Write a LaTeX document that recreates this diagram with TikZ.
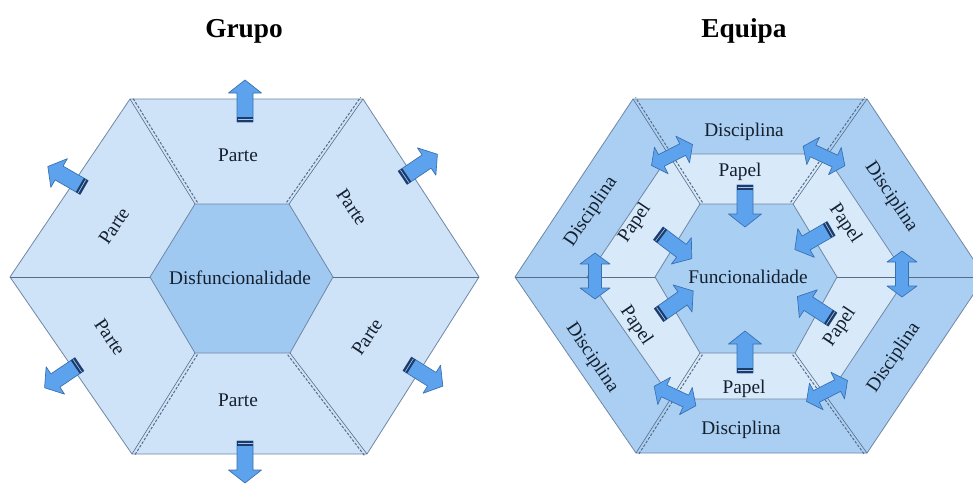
\documentclass[tikz,border=0pt]{standalone}
\usepackage{fontspec}
\setmainfont{Liberation Serif}
\usetikzlibrary{calc}

\definecolor{partfill}{HTML}{CFE3F8}
\definecolor{corefill}{HTML}{A0C9F1}
\definecolor{discfill}{HTML}{ABCFF2}
\definecolor{rolefill}{HTML}{D8EAFA}
\definecolor{funcfill}{HTML}{A9CFF3}
\definecolor{edgecol}{HTML}{6F87A6}
\definecolor{seamcol}{HTML}{566C88}
\definecolor{labelcol}{HTML}{15202F}
\definecolor{arrowcol}{HTML}{5CA2EC}
\definecolor{arrowedge}{HTML}{3A6FB0}
\definecolor{arrowdark}{HTML}{1E3A66}

% double seam: a solid rule plus a dashed rule running beside it
\newcommand\hexseam[3]{%
  \draw[seamline] (#1) -- (#2);
  \coordinate (seamstart) at ($(#1)!2.2pt!#3:(#2)$);
  \draw[seamdash] (seamstart) -- ($(seamstart)+(#2)-(#1)$);
}

\begin{document}
\begin{tikzpicture}[x=0.75pt,y=-0.75pt,
  edge/.style={draw=edgecol, line width=0.6pt, line join=round},
  seamline/.style={draw=seamcol, line width=0.45pt},
  seamdash/.style={draw=seamcol, line width=0.75pt, dash pattern=on 2pt off 1.2pt},
  lbl/.style={font=\fontsize{14.5}{16}\selectfont, text=labelcol, inner sep=0pt},
  title/.style={font=\fontsize{20.5}{24}\selectfont\bfseries, text=black, inner sep=0pt, anchor=base},
  arrowbody/.style={fill=arrowcol, draw=arrowedge, line width=0.5pt, line join=round},
  pics/blockarrow/.style={code={
    \path[arrowbody] (-21,-8) -- (8,-8) -- (8,-16.5) -- (21,0) -- (8,16.5) -- (8,8) -- (-21,8) -- cycle;
    \fill[arrowdark] (-21,-8) rectangle (-16,8);
    \draw[arrowcol!60!white, line width=0.5pt] (-18.5,-7.5) -- (-18.5,7.5);
  }},
  pics/twinarrow/.style={code={
    \path[arrowbody] (-23,0) -- (-12,-15) -- (-12,-6.5) -- (12,-6.5) -- (12,-15) -- (23,0)
      -- (12,15) -- (12,6.5) -- (-12,6.5) -- (-12,15) -- cycle;
  }}
]
\clip (0,0) rectangle (973,485);
\fill[white] (0,0) rectangle (973,485);

% ---------- titles ----------
\node[title] (tGrupo) at (244,38) {Grupo};
\node[title] (tEquipa) at (744,38) {Equipa};

% ---------- Grupo hexagon ----------
\coordinate (gL)  at (10,277);
\coordinate (gTL) at (130,99);
\coordinate (gTR) at (363,99);
\coordinate (gR)  at (479,277);
\coordinate (gBR) at (367,454);
\coordinate (gBL) at (132,454);
\coordinate (gcL)  at (150,277);
\coordinate (gcTL) at (195,204);
\coordinate (gcTR) at (289,204);
\coordinate (gcR)  at (333,277);
\coordinate (gcBR) at (290,353);
\coordinate (gcBL) at (195,353);

\path[edge, fill=partfill] (gL)--(gTL)--(gTR)--(gR)--(gBR)--(gBL)--cycle;
\path[edge, fill=corefill] (gcL)--(gcTL)--(gcTR)--(gcR)--(gcBR)--(gcBL)--cycle;

\hexseam{gcTL}{gTL}{-90}
\hexseam{gcTR}{gTR}{90}
\hexseam{gcBL}{gBL}{90}
\hexseam{gcBR}{gBR}{-90}
\draw[seamline] (gL) -- (gcL);
\draw[seamdash] (gL) -- (gcL);
\draw[seamline] (gcR) -- (gR);
\draw[seamdash] (gcR) -- (gR);

\node[lbl] (pTop) at (238,155) {Parte};
\node[lbl, rotate=56] (pTL) at (114,226) {Parte};
\node[lbl, rotate=-56] (pTR) at (352,207) {Parte};
\node[lbl, rotate=-56] (pBL) at (110,337) {Parte};
\node[lbl, rotate=56] (pBR) at (367,337) {Parte};
\node[lbl] (pBot) at (238,400) {Parte};
\node[lbl] (gCore) at (240,278) {Disfuncionalidade};

\pic[rotate=90] at (245,101) {blockarrow};
\pic[rotate=34] at (420,166) {blockarrow};
\pic[rotate=-32] at (425,375) {blockarrow};
\pic[rotate=-90] at (245,462) {blockarrow};
\pic[rotate=-146] at (62,376) {blockarrow};
\pic[rotate=150] at (66,177) {blockarrow};

% ---------- Equipa hexagon ----------
\coordinate (eL)  at (515,277);
\coordinate (eTL) at (633,99);
\coordinate (eTR) at (867,99);
\coordinate (eR)  at (985,277);
\coordinate (eBR) at (867,453);
\coordinate (eBL) at (636,453);
\coordinate (emL)  at (587,277);
\coordinate (emTL) at (670,154);
\coordinate (emTR) at (825,154);
\coordinate (emR)  at (907,277);
\coordinate (emBR) at (826,399);
\coordinate (emBL) at (672,399);
\coordinate (ecL)  at (655,277);
\coordinate (ecTL) at (700,204);
\coordinate (ecTR) at (793,204);
\coordinate (ecR)  at (837,277);
\coordinate (ecBR) at (795,353);
\coordinate (ecBL) at (700,353);

\path[edge, fill=discfill] (eL)--(eTL)--(eTR)--(eR)--(eBR)--(eBL)--cycle;
\path[edge, fill=rolefill] (emL)--(emTL)--(emTR)--(emR)--(emBR)--(emBL)--cycle;
\path[edge, fill=funcfill] (ecL)--(ecTL)--(ecTR)--(ecR)--(ecBR)--(ecBL)--cycle;

\hexseam{ecTL}{eTL}{-90}
\hexseam{ecTR}{eTR}{90}
\hexseam{ecBL}{eBL}{90}
\hexseam{ecBR}{eBR}{-90}
\draw[seamline] (eL) -- (ecL);
\draw[seamdash] (eL) -- (ecL);
\draw[seamline] (ecR) -- (eR);
\draw[seamdash] (ecR) -- (eR);

\node[lbl] (dTop) at (744,132) {Disciplina};
\node[lbl, rotate=56] (dTL) at (591,212) {Disciplina};
\node[lbl, rotate=-56] (dTR) at (891,197) {Disciplina};
\node[lbl, rotate=-56] (dBL) at (592,358) {Disciplina};
\node[lbl, rotate=56] (dBR) at (894,358) {Disciplina};
\node[lbl] (dBot) at (741,430) {Disciplina};

\node[lbl] (rTop) at (740,172) {Papel};
\node[lbl, rotate=56] (rTL) at (635,223) {Papel};
\node[lbl, rotate=-56] (rTR) at (845,224) {Papel};
\node[lbl, rotate=-56] (rBL) at (636,326) {Papel};
\node[lbl, rotate=56] (rBR) at (840,327) {Papel};
\node[lbl] (rBot) at (744,389) {Papel};

\node[lbl] (eCore) at (748,277) {Funcionalidade};

% roles feeding the core
\pic[rotate=-90] at (745,206) {blockarrow};
\pic[rotate=90] at (745,352) {blockarrow};
\pic[rotate=-37] at (675,246) {blockarrow};
\pic[rotate=35] at (676,303) {blockarrow};
\pic[rotate=210] at (813,239) {blockarrow};
\pic[rotate=147] at (815,308) {blockarrow};

% exchanges between neighbouring disciplines
\pic[rotate=27] at (672,155) {twinarrow};
\pic[rotate=-25] at (824,156) {twinarrow};
\pic[rotate=-25] at (675,396) {twinarrow};
\pic[rotate=27] at (827,391) {twinarrow};
\pic[rotate=90] at (595,276) {twinarrow};
\pic[rotate=90] at (902,274) {twinarrow};
\end{tikzpicture}
\end{document}
